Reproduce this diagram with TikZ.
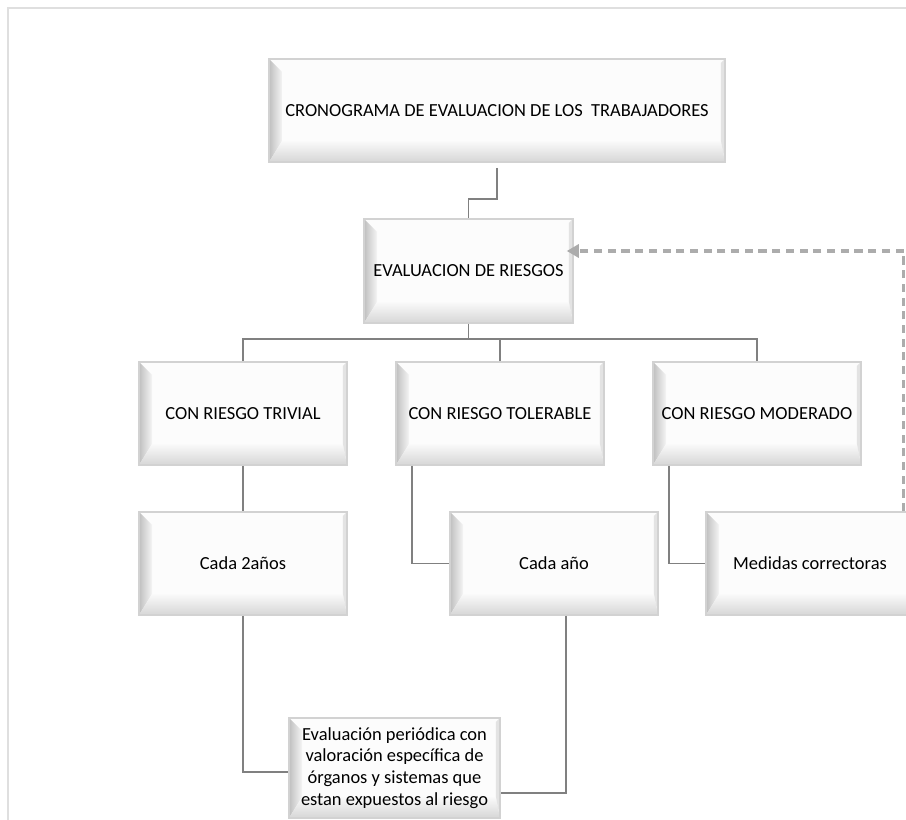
\documentclass[tikz,border=0pt]{standalone}
\usepackage{fontspec}
\setmainfont{Carlito}
\usetikzlibrary{positioning,arrows.meta}

\begin{document}
\begin{tikzpicture}[
    x=0.02cm,
    y=-0.02cm,
    >={Triangle[length=0.24cm,width=0.26cm]},
    font=\fontsize{10.5}{12.4}\selectfont
]

\tikzstyle{caja}=[
    draw=gray!35,
    line width=0.9pt,
    fill=gray!2,
    minimum width=4.16cm,
    minimum height=2.06cm,
    inner sep=2pt,
    align=center,
    path picture={
        \coordinate (bnw) at (path picture bounding box.north west);
        \coordinate (bsw) at (path picture bounding box.south west);
        \coordinate (bse) at (path picture bounding box.south east);
        \coordinate (bne) at (path picture bounding box.north east);
        \shade[left color=gray!50, right color=gray!8]
            (bnw) -- ([shift={(0.26cm,-0.26cm)}]bnw)
            -- ([shift={(0.26cm,0.42cm)}]bsw) -- (bsw) -- cycle;
        \shade[top color=gray!4, bottom color=gray!32]
            (bsw) -- ([shift={(0.26cm,0.42cm)}]bsw)
            -- ([shift={(-0.08cm,0.42cm)}]bse) -- (bse) -- cycle;
        \fill[gray!22]
            (bne) -- ([shift={(-0.08cm,-0.08cm)}]bne)
            -- ([shift={(-0.08cm,0.42cm)}]bse) -- (bse) -- cycle;
    }
]
\tikzstyle{enlace}=[draw=gray, line width=1.1pt]
\tikzstyle{retorno}=[draw=gray!65, line width=1.8pt, dash pattern=on 4.6pt off 3.2pt, ->]

\useasboundingbox (0,0) rectangle (906,820);

% marco
\draw[gray!25, line width=1.1pt] (8,820) |- (906,8);

\node[caja, minimum width=9.12cm] (crono) at (497,110.5)
    {CRONOGRAMA DE EVALUACION DE LOS~~TRABAJADORES};
\node[caja, minimum width=4.18cm, minimum height=2.08cm] (eval) at (468.5,271)
    {EVALUACION DE RIESGOS};

\node[caja] (trivial) at (243,413.5) {CON RIESGO TRIVIAL};
\node[caja] (tolerable) at (500,413.5) {CON RIESGO TOLERABLE};
\node[caja] (moderado) at (757,413.5) {CON RIESGO MODERADO};

\node[caja] (dosanos) at (243,563.5) {Cada 2años};
\node[caja] (anual) at (554,563.5) {Cada año};
\node[caja] (medidas) at (810,563.5) {Medidas correctoras};

\node[caja, minimum width=4.22cm, minimum height=2cm] (periodica) at (394.5,768)
    {Evaluación periódica con\\valoración específica de\\órganos y sistemas que\\estan expuestos al riesgo};

\draw[enlace] ([yshift=-0.1cm]crono.south) -- ++(0,31) -| (eval.north);
\draw[enlace] (eval.south) -- ++(0,15) coordinate (bus);
\draw[enlace] (trivial.north) |- (bus) -| (moderado.north);
\draw[enlace] (tolerable.north) -- (tolerable.north |- bus);

\draw[enlace] (trivial.south) -- (dosanos.north);
\draw[enlace] ([xshift=0.34cm]tolerable.south west) |- (anual.west);
\draw[enlace] ([xshift=0.34cm]moderado.south west) |- (medidas.west);

\draw[enlace] (dosanos.south) |- ([yshift=-0.08cm]periodica.west);
\draw[enlace] ([xshift=0.24cm]anual.south) |- ([yshift=-0.5cm]periodica.east);

\draw[retorno] ([xshift=-0.22cm]medidas.north east) |- ([shift={(-0.14cm,0.4cm)}]eval.east);

\end{tikzpicture}
\end{document}
